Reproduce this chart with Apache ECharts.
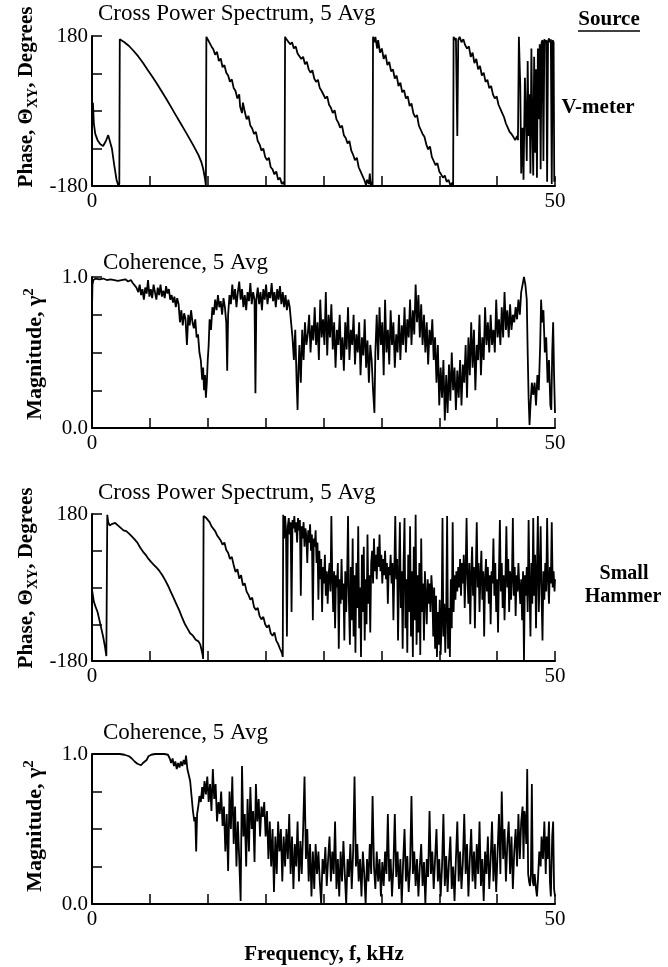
<!DOCTYPE html>
<html>
<head>
<meta charset="utf-8">
<script src="https://cdn.jsdelivr.net/npm/echarts@6/dist/echarts.min.js"></script>
<style>
html,body{margin:0;padding:0;background:#fff;}
#c{width:668px;height:967px;}
</style>
</head>
<body>
<div id="c"></div>
<script>
// ---- Data: [frequency kHz, value] ----
const phaseVmeter = [
[0,-5],[0.1,20],[0.2,-30],[0.35,-55],[0.6,-70],[0.9,-80],[1.2,-84],[1.5,-72],[1.75,-58],[1.95,-62],[2.15,-90],[2.4,-130],[2.65,-165],[2.85,-180],[2.95,-175],[3.0,172],[3.5,165],[4.0,156],[4.5,144],[5.0,131],[5.5,116],[6.0,99],[6.5,83],[7.0,66],[7.5,48],[8.0,30],[8.5,11],[9.0,-8],[9.5,-27],[10.0,-46],[10.5,-65],[11.0,-85],[11.5,-106],[11.8,-122],[12.0,-138],[12.2,-162],[12.3,-180],
[12.35,178],[12.5,172],[12.7,168],[12.9,155],[13.1,148],[13.3,135],[13.5,142],[13.7,120],[13.9,126],[14.1,105],[14.3,110],[14.5,92],[14.7,85],[14.9,70],[15.1,76],[15.3,55],[15.5,48],[15.7,30],[15.9,40],[16.0,10],[16.2,-5],[16.3,20],[16.5,-2],[16.7,-20],[16.9,-12],[17.1,-35],[17.3,-42],[17.5,-55],[17.7,-50],[17.9,-72],[18.1,-80],[18.3,-95],[18.5,-90],[18.7,-110],[18.9,-118],[19.1,-112],[19.3,-135],[19.5,-140],[19.7,-152],[19.9,-145],[20.1,-165],[20.3,-160],[20.5,-175],[20.7,-170],[20.8,-180],
[20.85,178],[21.0,172],[21.2,176],[21.4,160],[21.6,165],[21.8,150],[22.0,155],[22.2,138],[22.4,142],[22.6,125],[22.8,130],[23.0,112],[23.2,118],[23.4,100],[23.6,92],[23.8,98],[24.0,78],[24.2,70],[24.4,75],[24.6,55],[24.8,48],[25.0,52],[25.2,30],[25.4,35],[25.6,15],[25.8,8],[26.0,-5],[26.2,2],[26.4,-20],[26.6,-28],[26.8,-40],[27.0,-35],[27.2,-58],[27.4,-65],[27.6,-78],[27.8,-72],[28.0,-95],[28.2,-105],[28.4,-118],[28.6,-112],[28.8,-135],[29.0,-145],[29.2,-155],[29.4,-165],[29.6,-178],[29.7,-165],[29.9,-175],[30.0,-150],[30.1,-178],[30.2,-170],[30.3,-180],
[30.35,178],[30.5,165],[30.6,178],[30.8,150],[30.9,170],[31.1,140],[31.3,150],[31.5,125],[31.7,135],[31.9,110],[32.1,118],[32.3,95],[32.5,100],[32.7,78],[32.9,85],[33.1,60],[33.3,68],[33.5,45],[33.7,50],[33.9,30],[34.1,35],[34.3,12],[34.5,18],[34.7,-5],[34.9,-15],[35.1,-10],[35.3,-35],[35.5,-45],[35.7,-55],[35.9,-62],[36.1,-80],[36.3,-92],[36.5,-85],[36.7,-110],[36.9,-120],[37.1,-130],[37.3,-125],[37.5,-145],[37.7,-152],[37.9,-160],[38.1,-155],[38.3,-170],[38.5,-165],[38.7,-178],[38.9,-172],[39.0,-180],
[39.05,178],[39.2,170],[39.3,175],[39.45,-60],[39.55,170],[39.7,178],[39.9,165],[40.1,172],[40.3,158],[40.5,150],[40.7,155],[40.9,130],[41.1,140],[41.3,115],[41.5,125],[41.7,100],[41.9,108],[42.1,85],[42.3,92],[42.5,70],[42.7,75],[42.9,55],[43.1,60],[43.3,40],[43.5,30],[43.7,35],[43.9,15],[44.1,5],[44.3,-5],[44.5,-15],[44.7,-30],[44.9,-40],[45.1,-50],[45.3,-55],[45.5,-62],[45.7,-70],[45.9,-60],[46.0,-70],
[46.1,178],[46.25,60],[46.35,-150],[46.5,-40],[46.6,-165],[46.75,80],[46.85,-10],[46.95,-120],[47.05,120],[47.15,-60],[47.25,40],[47.35,-150],[47.45,150],[47.55,-30],[47.65,-155],[47.75,130],[47.85,-100],[47.95,100],[48.05,-160],[48.15,150],[48.25,-20],[48.35,160],[48.45,-140],[48.55,165],[48.65,170],[48.75,-120],[48.85,172],[48.95,165],[49.05,170],[49.15,-170],[49.25,168],[49.35,174],[49.45,165],[49.55,172],[49.65,-175],[49.75,170],[49.85,165],[49.92,-170],[50,-160]
];

const cohVmeter = [
[0,0.78],[0.05,0.95],[0.15,0.98],[0.4,0.99],[0.8,0.985],[1.2,0.99],[1.6,0.98],[2.0,0.985],[2.4,0.98],[2.8,0.975],[3.2,0.98],[3.6,0.985],[3.9,0.97],[4.2,0.98],[4.4,0.96],[4.6,0.97],[4.8,0.93],[5.0,0.9],[5.15,0.95],[5.3,0.88],[5.45,0.92],[5.6,0.85],[5.75,0.93],[5.9,0.89],[6.05,0.98],[6.2,0.87],[6.35,0.92],[6.5,0.86],[6.65,0.95],[6.8,0.9],[6.95,0.85],[7.1,0.93],[7.25,0.88],[7.4,0.95],[7.55,0.87],[7.7,0.91],[7.85,0.86],[8.0,0.94],[8.15,0.89],[8.3,0.92],[8.45,0.85],[8.6,0.88],[8.75,0.83],[8.9,0.87],[9.05,0.8],[9.2,0.86],[9.35,0.82],[9.5,0.7],[9.65,0.78],[9.8,0.68],[9.95,0.76],[10.1,0.72],[10.25,0.55],[10.4,0.75],[10.55,0.68],[10.7,0.78],[10.85,0.7],[11.0,0.66],[11.15,0.72],[11.3,0.6],[11.45,0.62],[11.6,0.5],[11.75,0.45],[11.9,0.32],[12.0,0.4],[12.1,0.25],[12.2,0.35],[12.3,0.2],[12.4,0.3],[12.5,0.45],[12.6,0.55],[12.7,0.72],[12.85,0.65],[13.0,0.8],[13.15,0.75],[13.3,0.85],[13.45,0.78],[13.6,0.88],[13.75,0.8],[13.9,0.84],[14.05,0.75],[14.2,0.86],[14.35,0.8],[14.5,0.7],[14.6,0.38],[14.7,0.75],[14.85,0.88],[15.0,0.82],[15.15,0.95],[15.3,0.85],[15.45,0.92],[15.6,0.8],[15.75,0.9],[15.9,0.97],[16.05,0.85],[16.2,0.92],[16.35,0.8],[16.5,0.88],[16.65,0.78],[16.8,0.9],[16.95,0.84],[17.1,0.96],[17.25,0.82],[17.4,0.9],[17.55,0.85],[17.65,0.23],[17.75,0.85],[17.9,0.93],[18.05,0.82],[18.2,0.9],[18.35,0.78],[18.5,0.92],[18.65,0.85],[18.8,0.95],[18.95,0.82],[19.1,0.9],[19.25,0.86],[19.4,0.96],[19.55,0.84],[19.7,0.9],[19.85,0.8],[20.0,0.92],[20.15,0.85],[20.3,0.94],[20.45,0.82],[20.6,0.9],[20.75,0.8],[20.9,0.88],[21.05,0.78],[21.2,0.85],[21.35,0.8],[21.5,0.7],[21.65,0.6],[21.8,0.45],[21.95,0.65],[22.1,0.3],[22.2,0.12],[22.3,0.4],[22.4,0.55],[22.55,0.3],[22.7,0.65],[22.85,0.45],[23.0,0.7],[23.15,0.55],[23.3,0.62],[23.45,0.75],[23.6,0.5],[23.75,0.68],[23.9,0.58],[24.05,0.8],[24.2,0.55],[24.35,0.7],[24.5,0.45],[24.65,0.85],[24.8,0.6],[24.95,0.72],[25.1,0.55],[25.25,0.9],[25.4,0.48],[25.55,0.75],[25.7,0.6],[25.85,0.82],[26.0,0.52],[26.15,0.7],[26.3,0.4],[26.45,0.65],[26.6,0.55],[26.75,0.75],[26.9,0.45],[27.05,0.6],[27.2,0.38],[27.35,0.7],[27.5,0.52],[27.65,0.8],[27.8,0.45],[27.95,0.65],[28.1,0.55],[28.25,0.75],[28.4,0.42],[28.55,0.62],[28.7,0.5],[28.85,0.7],[29.0,0.35],[29.15,0.6],[29.3,0.48],[29.45,0.72],[29.6,0.4],[29.75,0.58],[29.9,0.3],[30.05,0.55],[30.2,0.45],[30.35,0.25],[30.5,0.1],[30.6,0.5],[30.75,0.75],[30.9,0.45],[31.05,0.8],[31.2,0.55],[31.35,0.7],[31.5,0.35],[31.65,0.85],[31.8,0.5],[31.95,0.65],[32.1,0.42],[32.25,0.78],[32.4,0.55],[32.55,0.7],[32.7,0.4],[32.85,0.62],[33.0,0.5],[33.15,0.75],[33.3,0.45],[33.45,0.68],[33.6,0.55],[33.75,0.8],[33.9,0.5],[34.05,0.72],[34.2,0.6],[34.35,0.85],[34.5,0.55],[34.65,0.78],[34.8,0.62],[34.95,0.95],[35.1,0.7],[35.25,0.88],[35.4,0.6],[35.55,0.82],[35.7,0.55],[35.85,0.75],[36.0,0.5],[36.15,0.7],[36.3,0.42],[36.45,0.65],[36.6,0.55],[36.75,0.72],[36.9,0.45],[37.05,0.6],[37.2,0.3],[37.35,0.55],[37.5,0.15],[37.65,0.4],[37.8,0.2],[37.95,0.45],[38.1,0.05],[38.25,0.35],[38.4,0.1],[38.55,0.42],[38.7,0.18],[38.85,0.5],[39.0,0.25],[39.15,0.4],[39.3,0.12],[39.45,0.38],[39.6,0.2],[39.75,0.45],[39.9,0.15],[40.05,0.42],[40.2,0.3],[40.35,0.55],[40.5,0.2],[40.65,0.6],[40.8,0.35],[40.95,0.7],[41.1,0.4],[41.25,0.65],[41.4,0.25],[41.55,0.55],[41.7,0.45],[41.85,0.75],[42.0,0.35],[42.15,0.6],[42.3,0.45],[42.45,0.8],[42.6,0.55],[42.75,0.7],[42.9,0.5],[43.05,0.75],[43.2,0.55],[43.35,0.65],[43.5,0.5],[43.65,0.85],[43.8,0.6],[43.95,0.72],[44.1,0.55],[44.25,0.8],[44.4,0.6],[44.55,0.9],[44.7,0.65],[44.85,0.78],[45.0,0.6],[45.15,0.82],[45.3,0.65],[45.45,0.75],[45.6,0.7],[45.75,0.8],[45.9,0.72],[46.05,0.85],[46.2,0.75],[46.35,0.9],[46.5,0.95],[46.65,1.0],[46.8,0.95],[46.95,0.85],[47.05,0.5],[47.15,0.2],[47.25,0.02],[47.35,0.15],[47.5,0.3],[47.65,0.22],[47.8,0.3],[47.95,0.15],[48.1,0.35],[48.25,0.25],[48.4,0.55],[48.5,0.85],[48.6,0.7],[48.75,0.78],[48.9,0.5],[49.05,0.6],[49.2,0.3],[49.35,0.45],[49.5,0.15],[49.6,0.12],[49.7,0.5],[49.8,0.7],[49.9,0.35],[50,0.1]
];

const phaseHammer = [
[0,-5],[0.1,-20],[0.2,-35],[0.4,-48],[0.6,-60],[0.8,-80],[1.0,-100],[1.2,-120],[1.4,-145],[1.55,-168],[1.6,-172],[1.65,178],[1.75,160],[1.9,152],[2.2,156],[2.5,158],[2.8,152],[3.1,146],[3.4,140],[3.7,138],[4.0,132],[4.3,125],[4.6,118],[4.9,110],[5.2,98],[5.5,88],[5.8,80],[6.1,70],[6.4,62],[6.7,55],[7.0,48],[7.3,40],[7.6,30],[7.9,18],[8.2,5],[8.5,-10],[8.8,-25],[9.1,-40],[9.4,-55],[9.7,-72],[10.0,-88],[10.3,-100],[10.6,-112],[10.9,-118],[11.2,-128],[11.5,-132],[11.7,-140],[11.85,-155],[11.95,-165],[12.0,-175],
[12.05,175],[12.2,178],[12.35,170],[12.5,172],[12.7,160],[12.9,150],[13.1,152],[13.3,138],[13.5,128],[13.7,132],[13.9,115],[14.1,105],[14.3,110],[14.5,92],[14.7,85],[14.9,70],[15.1,75],[15.3,55],[15.5,38],[15.7,45],[15.9,22],[16.1,30],[16.3,5],[16.5,10],[16.7,-10],[16.9,-18],[17.1,-30],[17.3,-25],[17.5,-48],[17.7,-55],[17.9,-50],[18.1,-70],[18.3,-78],[18.5,-72],[18.7,-90],[18.9,-98],[19.1,-92],[19.3,-112],[19.5,-118],[19.7,-110],[19.9,-130],[20.1,-138],[20.3,-150],[20.5,-160],[20.6,-170],
[20.65,178],[20.75,120],[20.85,175],[20.95,140],[21.05,-120],[21.15,150],[21.25,170],[21.35,130],[21.45,160],[21.55,-60],[21.65,165],[21.75,145],[21.85,175],[21.95,135],[22.05,160],[22.15,110],[22.25,170],[22.35,140],[22.45,165],[22.55,-20],[22.65,150],[22.75,120],[22.85,160],[22.95,100],[23.05,145],[23.15,125],[23.25,60],[23.35,140],[23.45,110],[23.55,155],[23.65,90],[23.75,130],[23.85,-80],[23.95,120],[24.05,100],[24.15,140],[24.25,60],[24.35,110],[24.45,-30],[24.55,90],[24.65,20],[24.75,70],[24.85,-60],[24.95,50],[25.05,10],[25.15,80],[25.25,-20],[25.35,40],[25.45,-40],[25.55,30],[25.65,60],[25.75,-10],[25.85,175],[25.95,20],[26.05,-60],[26.15,40],[26.25,-100],[26.35,30],[26.45,0],[26.55,60],[26.65,-150],[26.75,20],[26.85,-40],[26.95,70],[27.05,-30],[27.15,10],[27.25,-130],[27.35,40],[27.45,-60],[27.55,20],[27.65,175],[27.75,-40],[27.85,-140],[27.95,50],[28.05,-80],[28.15,120],[28.25,-120],[28.35,30],[28.45,-160],[28.55,60],[28.65,-50],[28.75,150],[28.85,-100],[28.95,0],[29.05,-170],[29.15,80],[29.25,-60],[29.35,100],[29.45,-130],[29.55,20],[29.65,-90],[29.75,130],[29.85,-40],[29.95,30],[30.05,-110],[30.15,60],[30.25,90],[30.35,10],[30.45,120],[30.55,40],[30.65,80],[30.75,20],[30.85,100],[30.95,50],[31.05,130],[31.15,40],[31.25,80],[31.35,10],[31.45,70],[31.55,30],[31.65,90],[31.75,20],[31.85,60],[31.95,-40],[32.05,50],[32.15,30],[32.25,80],[32.35,10],[32.45,60],[32.55,-80],[32.65,40],[32.75,175],[32.85,20],[32.95,70],[33.05,-130],[33.15,30],[33.25,160],[33.35,-50],[33.45,40],[33.55,-150],[33.65,60],[33.75,170],[33.85,-100],[33.95,20],[34.05,-160],[34.15,80],[34.25,-60],[34.35,150],[34.45,-120],[34.55,40],[34.65,-170],[34.75,100],[34.85,-80],[34.95,178],[35.05,-140],[35.15,30],[35.25,-110],[35.35,60],[35.45,-165],[35.55,120],[35.65,-60],[35.75,10],[35.85,-130],[35.95,40],[36.05,-20],[36.15,-90],[36.25,20],[36.35,-40],[36.45,10],[36.55,-60],[36.65,30],[36.75,-10],[36.85,-120],[36.95,0],[37.05,-150],[37.15,-20],[37.25,-170],[37.35,-60],[37.45,-140],[37.55,-30],[37.65,-165],[37.75,-90],[37.85,170],[37.95,-120],[38.05,-40],[38.15,-160],[38.25,-70],[38.35,175],[38.45,-150],[38.55,-50],[38.65,-170],[38.75,20],[38.85,-100],[38.95,160],[39.05,-60],[39.15,30],[39.25,-30],[39.35,40],[39.45,-10],[39.55,50],[39.65,0],[39.75,70],[39.85,-20],[39.95,60],[40.05,10],[40.15,80],[40.25,-50],[40.35,40],[40.45,170],[40.55,20],[40.65,-40],[40.75,60],[40.85,-90],[40.95,30],[41.05,100],[41.15,-20],[41.25,50],[41.35,-100],[41.45,40],[41.55,160],[41.65,0],[41.75,60],[41.85,-60],[41.95,30],[42.05,90],[42.15,-30],[42.25,40],[42.35,-120],[42.45,20],[42.55,70],[42.65,-10],[42.75,50],[42.85,-40],[42.95,30],[43.05,-90],[43.15,40],[43.25,10],[43.35,120],[43.45,-20],[43.55,60],[43.65,-60],[43.75,20],[43.85,-110],[43.95,40],[44.05,165],[44.15,-10],[44.25,60],[44.35,-50],[44.45,30],[44.55,-80],[44.65,20],[44.75,150],[44.85,0],[44.95,70],[45.05,-60],[45.15,40],[45.25,-30],[45.35,20],[45.45,170],[45.55,-20],[45.65,50],[45.75,-70],[45.85,30],[45.95,-10],[46.05,60],[46.15,0],[46.25,-40],[46.35,20],[46.45,-80],[46.55,40],[46.65,-180],[46.75,30],[46.85,-20],[46.95,50],[47.05,-60],[47.15,165],[47.25,0],[47.35,-120],[47.45,60],[47.55,-40],[47.65,170],[47.75,-20],[47.85,80],[47.95,-100],[48.05,40],[48.15,175],[48.25,-60],[48.35,30],[48.45,150],[48.55,-20],[48.65,-130],[48.75,40],[48.85,-30],[48.95,60],[49.05,-10],[49.15,170],[49.25,20],[49.35,-40],[49.45,50],[49.55,10],[49.65,160],[49.75,0],[49.85,40],[49.95,-10],[50,20]
];

const cohHammer = [
[0,1.0],[0.5,1.0],[1.0,1.0],[1.5,1.0],[2.0,1.0],[2.5,1.0],[3.0,1.0],[3.5,0.995],[4.0,0.985],[4.3,0.97],[4.6,0.95],[4.9,0.935],[5.1,0.94],[5.3,0.925],[5.5,0.94],[5.7,0.95],[5.9,0.96],[6.1,0.985],[6.4,0.995],[6.8,1.0],[7.3,1.0],[7.8,1.0],[8.2,0.995],[8.4,0.97],[8.55,0.94],[8.7,0.97],[8.85,0.92],[9.0,0.95],[9.15,0.9],[9.3,0.94],[9.45,0.91],[9.6,0.95],[9.75,0.92],[9.9,0.96],[10.05,0.93],[10.15,0.99],[10.3,0.9],[10.45,0.86],[10.6,0.82],[10.75,0.72],[10.9,0.62],[11.05,0.55],[11.15,0.58],[11.25,0.35],[11.35,0.6],[11.5,0.66],[11.6,0.72],[11.75,0.68],[11.9,0.78],[12.0,0.7],[12.15,0.82],[12.3,0.73],[12.45,0.85],[12.6,0.68],[12.75,0.8],[12.9,0.62],[13.05,0.9],[13.2,0.7],[13.35,0.8],[13.5,0.55],[13.65,0.68],[13.8,0.6],[13.95,0.75],[14.1,0.52],[14.25,0.65],[14.4,0.35],[14.55,0.6],[14.7,0.22],[14.85,0.75],[15.0,0.5],[15.15,0.85],[15.3,0.4],[15.45,0.65],[15.6,0.25],[15.75,0.55],[15.9,0.3],[16.05,0.02],[16.2,0.92],[16.35,0.45],[16.5,0.6],[16.65,0.25],[16.8,0.7],[16.95,0.35],[17.1,0.78],[17.25,0.5],[17.4,0.62],[17.55,0.28],[17.7,0.8],[17.85,0.55],[18.0,0.7],[18.15,0.45],[18.3,0.65],[18.45,0.58],[18.6,0.68],[18.75,0.45],[18.9,0.62],[19.05,0.3],[19.2,0.55],[19.35,0.25],[19.5,0.5],[19.65,0.08],[19.8,0.45],[19.95,0.2],[20.1,0.55],[20.25,0.35],[20.4,0.5],[20.55,0.15],[20.7,0.45],[20.85,0.25],[21.0,0.5],[21.15,0.3],[21.3,0.6],[21.45,0.2],[21.6,0.45],[21.75,0.1],[21.9,0.4],[22.05,0.25],[22.2,0.55],[22.35,0.15],[22.5,0.42],[22.65,0.2],[22.8,0.5],[22.95,0.85],[23.1,0.3],[23.25,0.5],[23.4,0.15],[23.55,0.4],[23.7,0.05],[23.85,0.35],[24.0,0.1],[24.15,0.4],[24.3,0.2],[24.45,0.35],[24.6,0.15],[24.75,0.0],[24.9,0.3],[25.05,0.2],[25.2,0.38],[25.35,0.12],[25.5,0.3],[25.65,0.45],[25.8,0.15],[25.95,0.35],[26.1,0.2],[26.25,0.55],[26.4,0.1],[26.55,0.3],[26.7,0.05],[26.85,0.35],[27.0,0.15],[27.15,0.42],[27.3,0.2],[27.45,0.0],[27.6,0.3],[27.75,0.18],[27.9,0.4],[28.05,0.1],[28.2,0.35],[28.35,0.85],[28.5,0.25],[28.65,0.4],[28.8,0.15],[28.95,0.3],[29.1,0.05],[29.25,0.35],[29.4,0.2],[29.55,0.0],[29.7,0.3],[29.85,0.15],[30.0,0.4],[30.15,0.2],[30.3,0.72],[30.45,0.25],[30.6,0.1],[30.75,0.35],[30.9,0.15],[31.05,0.3],[31.2,0.05],[31.35,0.28],[31.5,0.12],[31.65,0.35],[31.8,0.2],[31.95,0.6],[32.1,0.15],[32.25,0.3],[32.4,0.05],[32.55,0.25],[32.7,0.6],[32.85,0.18],[33.0,0.35],[33.15,0.1],[33.3,0.3],[33.45,0.0],[33.6,0.28],[33.75,0.5],[33.9,0.15],[34.05,0.32],[34.2,0.08],[34.35,0.25],[34.5,0.72],[34.65,0.2],[34.8,0.35],[34.95,0.12],[35.1,0.3],[35.25,0.05],[35.4,0.25],[35.55,0.4],[35.7,0.12],[35.85,0.28],[36.0,0.0],[36.15,0.3],[36.3,0.18],[36.45,0.62],[36.6,0.2],[36.75,0.35],[36.9,0.1],[37.05,0.3],[37.2,0.5],[37.35,0.15],[37.5,0.3],[37.65,0.05],[37.8,0.25],[37.95,0.6],[38.1,0.12],[38.25,0.32],[38.4,0.08],[38.55,0.28],[38.7,0.45],[38.85,0.1],[39.0,0.25],[39.15,0.02],[39.3,0.3],[39.45,0.55],[39.6,0.15],[39.75,0.35],[39.9,0.1],[40.05,0.28],[40.2,0.6],[40.35,0.2],[40.5,0.4],[40.65,0.05],[40.8,0.3],[40.95,0.5],[41.1,0.15],[41.25,0.35],[41.4,0.1],[41.55,0.4],[41.7,0.2],[41.85,0.55],[42.0,0.12],[42.15,0.3],[42.3,0.02],[42.45,0.35],[42.6,0.2],[42.75,0.45],[42.9,0.1],[43.05,0.3],[43.2,0.55],[43.35,0.15],[43.5,0.4],[43.65,0.08],[43.8,0.35],[43.95,0.6],[44.1,0.2],[44.25,0.75],[44.4,0.3],[44.55,0.5],[44.7,0.15],[44.85,0.4],[45.0,0.55],[45.15,0.2],[45.3,0.45],[45.45,0.1],[45.6,0.35],[45.75,0.5],[45.9,0.25],[46.05,0.6],[46.2,0.3],[46.35,0.55],[46.5,0.65],[46.6,0.3],[46.7,0.62],[46.8,0.55],[46.9,0.4],[47.0,0.9],[47.1,0.2],[47.2,0.15],[47.3,0.12],[47.4,0.2],[47.5,0.8],[47.6,0.15],[47.7,0.12],[47.8,0.2],[47.95,0.1],[48.05,0.05],[48.15,0.15],[48.3,0.35],[48.45,0.25],[48.55,0.45],[48.7,0.3],[48.85,0.55],[49.0,0.2],[49.1,0.45],[49.2,0.3],[49.35,0.55],[49.45,0.15],[49.55,0.05],[49.7,0.45],[49.8,0.55],[49.9,0.1],[50,0.05]
];

const xTickLabels = ['0', '50'];
const phaseTickLabels = ['-180', '180'];
const cohTickLabels = ['0.0', '1.0'];

// ---- Layout ----
const SERIF = '"Liberation Serif", "Times New Roman", serif';
const grids = [
  {left: 92, top: 36, width: 463, height: 150},
  {left: 92, top: 277, width: 463, height: 151},
  {left: 92, top: 514, width: 463, height: 147},
  {left: 92, top: 754, width: 463, height: 150}
];

function xAxisCfg(i) {
  return {
    type: 'value', gridIndex: i, min: 0, max: 50, interval: 6.25,
    axisLine: {onZero: false, lineStyle: {color: '#000', width: 2}},
    axisTick: {inside: true, length: 10, lineStyle: {color: '#000', width: 1.5}},
    axisLabel: {
      margin: 5, color: '#000', fontFamily: SERIF, fontSize: 21,
      formatter: v => v === 0 ? xTickLabels[0] : (v === 50 ? xTickLabels[1] : '')
    },
    splitLine: {show: false}
  };
}
function yAxisCfg(i, phase) {
  const cfg = {
    type: 'value', gridIndex: i,
    axisLine: {show: true, onZero: false, lineStyle: {color: '#000', width: 2}},
    axisTick: {show: true, inside: true, length: 10, lineStyle: {color: '#000', width: 1.5}},
    axisLabel: {margin: 4, color: '#000', fontFamily: SERIF, fontSize: 21},
    splitLine: {show: false}
  };
  if (phase) {
    cfg.min = -180; cfg.max = 180; cfg.interval = 90;
    cfg.axisLabel.formatter = v => v === -180 ? phaseTickLabels[0] : (v === 180 ? phaseTickLabels[1] : '');
  } else {
    cfg.min = 0; cfg.max = 1; cfg.interval = 0.25;
    cfg.axisLabel.formatter = v => v === 0 ? cohTickLabels[0] : (v === 1 ? cohTickLabels[1] : '');
  }
  return cfg;
}

const datasets = [phaseVmeter, cohVmeter, phaseHammer, cohHammer];
const series = datasets.map((d, i) => ({
  type: 'line', xAxisIndex: i, yAxisIndex: i, data: d,
  showSymbol: false, symbol: 'none', animation: false,
  lineStyle: {color: '#000', width: 1.8}
}));

function richName(size) {
  return {
    a: {fontFamily: SERIF, fontWeight: 'bold', fontSize: size, lineHeight: 26, fill: '#000', color: '#000'},
    s: {fontFamily: SERIF, fontWeight: 'bold', fontSize: 14, padding: [10, 0, 0, 0], lineHeight: 26, verticalAlign: 'bottom', fill: '#000', color: '#000'},
    p: {fontFamily: SERIF, fontWeight: 'bold', fontSize: 15, padding: [0, 0, 10, 0], lineHeight: 26, verticalAlign: 'top', fill: '#000', color: '#000'}
  };
}

function vText(x, y, text, size) {
  return {
    type: 'text', x: x, y: y, rotation: Math.PI / 2,
    style: {text: text, rich: richName(size), align: 'center', verticalAlign: 'middle',
            textAlign: 'center', textVerticalAlign: 'middle', fill: '#000'}
  };
}
function hText(x, y, text, bold, size, align) {
  return {
    type: 'text', x: x, y: y,
    style: {text: text, fill: '#000',
            font: (bold ? 'bold ' : '') + (size || 21) + 'px ' + SERIF,
            align: align || 'center', verticalAlign: 'middle',
            textAlign: align || 'center', textVerticalAlign: 'middle'}
  };
}

const graphics = [
  vText(27, 97, '{a|Phase, Θ}{s|XY}{a|, Degrees}', 21),
  vText(35, 354, '{a|Magnitude, γ}{p|2}', 22),
  vText(27, 578, '{a|Phase, Θ}{s|XY}{a|, Degrees}', 21),
  vText(35, 826, '{a|Magnitude, γ}{p|2}', 22),
  hText(98, 14, 'Cross Power Spectrum, 5 Avg', false, 23, 'left'),
  hText(103, 263, 'Coherence, 5 Avg', false, 23, 'left'),
  hText(98, 493, 'Cross Power Spectrum, 5 Avg', false, 23, 'left'),
  hText(103, 733, 'Coherence, 5 Avg', false, 23, 'left'),
  hText(609, 20, 'Source', true, 21),
  {type: 'line', shape: {x1: 578, y1: 31, x2: 640, y2: 31}, style: {stroke: '#000', lineWidth: 1.5}},
  hText(598, 108, 'V-meter', true, 21),
  hText(624, 574, 'Small', true, 20),
  hText(623, 597, 'Hammer', true, 20),
  hText(324, 955, 'Frequency, f, kHz', true, 21)
];

const chart = echarts.init(document.getElementById('c'), null, {renderer: 'canvas'});
chart.setOption({
  backgroundColor: '#fff',
  animation: false,
  grid: grids,
  xAxis: grids.map((g, i) => xAxisCfg(i)),
  yAxis: grids.map((g, i) => yAxisCfg(i, i % 2 === 0)),
  series: series,
  graphic: graphics
});
</script>
</body>
</html>
